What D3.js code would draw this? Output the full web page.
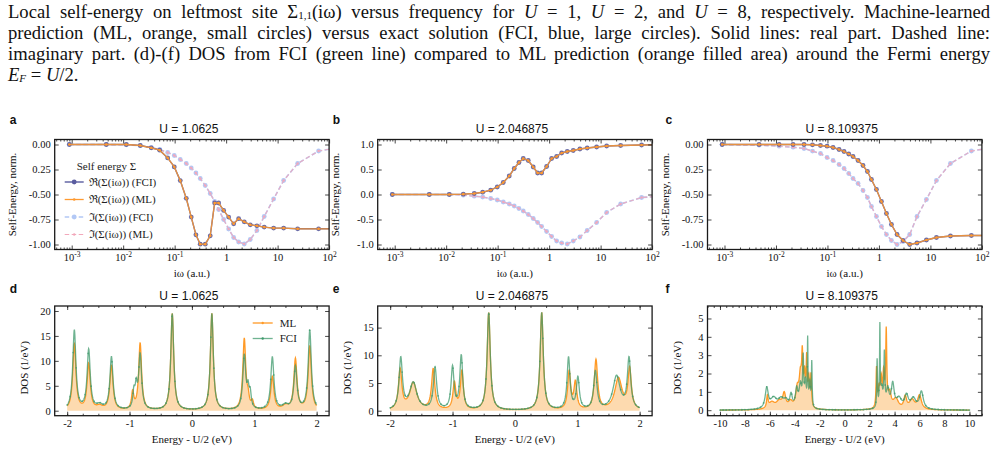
<!DOCTYPE html>
<html><head><meta charset="utf-8">
<script src="https://cdn.jsdelivr.net/npm/d3@7"></script>
<style>body{margin:0;background:#fff}svg{display:block}</style>
</head><body><svg id="c" width="998" height="451"></svg>
<script>
// ---------------- DATA ----------------
const omega=[0.0009,0.0047,0.0115,0.0215,0.0351,0.0512,0.0732,0.0983,0.1285,0.168,0.210,0.259,0.314,0.393,0.491,0.598,0.715,0.894,1.119,1.40,1.75,2.25,2.94,3.96,5.49,8.36,13.1,24.5,62.5,250];
const reA_FCI=[0,0,0,-0.01,-0.033,-0.057,-0.134,-0.224,-0.361,-0.538,-0.726,-0.903,-0.997,-0.997,-0.913,-0.585,-0.585,-0.659,-0.726,-0.793,-0.742,-0.773,-0.803,-0.813,-0.826,-0.836,-0.836,-0.843,-0.843,-0.843];
const reA_ML =[0,0,0,-0.01,-0.033,-0.057,-0.134,-0.224,-0.361,-0.538,-0.726,-0.903,-0.997,-0.997,-0.913,-0.585,-0.585,-0.659,-0.726,-0.793,-0.742,-0.773,-0.803,-0.813,-0.826,-0.836,-0.836,-0.843,-0.843,-0.843];
const imA_FCI=[0,0,-0.003,-0.012,-0.03,-0.05,-0.08,-0.11,-0.15,-0.19,-0.235,-0.285,-0.34,-0.41,-0.49,-0.57,-0.65,-0.75,-0.845,-0.93,-0.975,-0.995,-0.95,-0.86,-0.72,-0.545,-0.36,-0.19,-0.065,-0.015];
const imA_ML =[0,0,-0.003,-0.012,-0.03,-0.05,-0.08,-0.11,-0.15,-0.19,-0.235,-0.285,-0.34,-0.41,-0.49,-0.57,-0.65,-0.75,-0.845,-0.93,-0.975,-0.995,-0.95,-0.86,-0.72,-0.545,-0.36,-0.19,-0.065,-0.015];
const reB_FCI=[0,0,0,0.007,0.02,0.046,0.086,0.15,0.24,0.37,0.52,0.64,0.72,0.68,0.55,0.43,0.43,0.56,0.72,0.76,0.83,0.86,0.88,0.91,0.93,0.95,0.97,0.98,0.99,1.0];
const reB_ML =[0,0,0,0.007,0.02,0.046,0.086,0.15,0.24,0.37,0.52,0.64,0.72,0.68,0.55,0.43,0.43,0.56,0.72,0.76,0.83,0.86,0.88,0.91,0.93,0.95,0.97,0.98,0.99,1.0];
const imB_FCI=[0,0,0,-0.013,-0.033,-0.05,-0.08,-0.11,-0.15,-0.19,-0.23,-0.28,-0.33,-0.40,-0.48,-0.56,-0.64,-0.74,-0.84,-0.93,-0.97,-0.99,-0.93,-0.85,-0.72,-0.56,-0.36,-0.19,-0.06,-0.015];
const imB_ML =[0,0,0,-0.013,-0.033,-0.05,-0.08,-0.11,-0.15,-0.19,-0.23,-0.28,-0.33,-0.40,-0.48,-0.56,-0.64,-0.74,-0.84,-0.93,-0.97,-0.99,-0.93,-0.85,-0.72,-0.56,-0.36,-0.19,-0.06,-0.015];
const reC_FCI=[0,0,0,0,0,-0.003,-0.01,-0.017,-0.03,-0.05,-0.07,-0.095,-0.12,-0.16,-0.21,-0.27,-0.35,-0.45,-0.57,-0.69,-0.80,-0.90,-0.96,-1.0,-0.985,-0.955,-0.93,-0.915,-0.91,-0.91];
const reC_ML =[0,0,0,0,0,-0.003,-0.01,-0.017,-0.03,-0.05,-0.07,-0.095,-0.12,-0.16,-0.21,-0.27,-0.35,-0.45,-0.57,-0.69,-0.80,-0.90,-0.96,-1.0,-0.985,-0.955,-0.93,-0.915,-0.91,-0.91];
const imC_FCI=[0,-0.007,-0.017,-0.027,-0.04,-0.066,-0.09,-0.13,-0.16,-0.2,-0.24,-0.29,-0.34,-0.39,-0.46,-0.53,-0.62,-0.72,-0.82,-0.9,-0.96,-1.0,-0.97,-0.9,-0.72,-0.55,-0.36,-0.19,-0.065,-0.015];
const imC_ML =[0,-0.007,-0.017,-0.027,-0.04,-0.066,-0.09,-0.13,-0.16,-0.2,-0.24,-0.29,-0.34,-0.39,-0.46,-0.53,-0.62,-0.72,-0.82,-0.9,-0.96,-1.0,-0.97,-0.9,-0.72,-0.55,-0.36,-0.19,-0.065,-0.015];

const titles=["U = 1.0625","U = 2.046875","U = 8.109375"];
const panelLetters=["a","b","c","d","e","f"];
const logTicks=[1e-3,1e-2,1e-1,1,10,100];
const logTickLabels=[["10","-3"],["10","-2"],["10","-1"],["1",""],["10",""],["10","2"]];
const seYTicks=[[0,-0.25,-0.5,-0.75,-1],[1,0.5,0,-0.5,-1],[0,-0.25,-0.5,-0.75,-1]];
const seYTickLabels=[["0.00","0.25","-0.50","-0.75","-1.00"],["1.0","0.5","0.0","-0.5","-1.0"],["0.00","0.25","-0.50","-0.75","-1.00"]];
const legendSE=["\u211C(\u03A3(i\u03C9)) (FCI)","\u211C(\u03A3(i\u03C9)) (ML)","\u2111(\u03A3(i\u03C9)) (FCI)","\u2111(\u03A3(i\u03C9)) (ML)"];

// DOS: Lorentzian poles: [position (eV), peak height (1/eV), half width (eV)]
const dosD_FCI=[[-1.885,16.0,.03],[-1.655,12.0,.03],[-1.48,0.9,.06],[-1.29,10.6,.03],[-0.93,3.2,.02],[-0.893,3.9,.02],[-0.83,11.0,.028],[-0.315,19.4,.028],[0.32,19.4,.028],[0.84,10.8,.028],[0.90,3.4,.02],[0.935,2.8,.02],[1.29,10.6,.03],[1.50,0.9,.06],[1.66,8.6,.03],[1.89,16.0,.03]];
const dosD_ML =[[-1.885,13.2,.03],[-1.655,9.2,.03],[-1.48,0.7,.06],[-1.29,8.9,.03],[-0.95,3.4,.022],[-0.83,13.4,.028],[-0.315,19.4,.028],[0.32,19.4,.028],[0.84,14.2,.028],[0.90,2.0,.022],[0.97,1.4,.022],[1.29,6.7,.03],[1.50,0.8,.06],[1.66,10.2,.03],[1.89,12.8,.03]];
const dosE_FCI=[[-1.83,9.2,.032],[-1.63,4.9,.07],[-1.28,7.5,.032],[-1.0,7.6,.028],[-0.86,9.7,.028],[-0.42,17.6,.03],[0.43,17.6,.03],[0.86,9.4,.028],[1.01,5.7,.028],[1.29,6.9,.032],[1.63,6.1,.07],[1.83,9.1,.032]];
const dosE_ML =[[-1.84,7.2,.032],[-1.63,4.9,.07],[-1.31,7.3,.032],[-0.97,4.8,.028],[-0.85,6.9,.028],[-0.42,17.6,.03],[0.43,17.6,.03],[0.87,6.8,.028],[0.97,4.8,.028],[1.30,9.0,.032],[1.66,5.7,.07],[1.84,7.2,.032]];
const dosF_FCI=[[-6.25,1.1,.15],[-5.7,0.55,.3],[-5.1,0.5,.3],[-4.7,0.35,.2],[-4.3,0.7,.12],[-3.85,1.0,.12],[-3.55,1.2,.12],[-3.33,2.5,.05],[-3.15,1.3,.08],[-2.97,3.5,.03],[-2.8,1.3,.07],[-2.64,2.4,.035],[2.6,2.6,.035],[2.82,4.3,.03],[2.97,1.0,.1],[3.18,2.8,.045],[3.45,1.0,.13],[3.85,1.3,.14],[4.35,0.55,.25],[4.95,0.7,.18],[5.5,0.55,.25],[6.15,0.95,.18]];
const dosF_ML =[[-6.2,0.65,.07],[-5.85,0.35,.28],[-5.25,0.4,.3],[-4.85,0.75,.14],[-4.35,0.35,.2],[-3.8,1.0,.15],[-3.55,1.6,.12],[-3.4,2.4,.06],[-3.22,1.6,.08],[-3.05,2.4,.05],[-2.88,1.5,.07],[-2.7,1.7,.05],[2.55,2.1,.045],[2.75,1.0,.09],[2.92,1.4,.07],[3.12,1.8,.08],[3.33,4.0,.05],[3.6,0.8,.15],[4.1,0.55,.25],[4.85,0.65,.13],[5.4,0.5,.25],[6.0,0.75,.18]];
const dosRange=[[-2,2],[-2,2],[-10,10]];
const dosXTicks=[[-2,-1,0,1,2],[-2,-1,0,1,2],[-10,-8,-6,-4,-2,0,2,4,6,8,10]];
const dosYTicks=[[0,5,10,15,20],[0,5,10,15],[0,1,2,3,4,5]];

// ---------------- LAYOUT ----------------
const svg=d3.select("#c");
const SERIF="'Liberation Serif','Times New Roman',serif";
const SANS="'Liberation Sans',Arial,Helvetica,sans-serif";
const colX=[54.7,377.7,707.5], PW=274.4;
const row1={top:139.5,h:110}, row2={top:306,h:109.7};
const C={reF:"#5a5c9f",reM:"#ff9a30",imF:"#b2c8f5",imM:"#f2a8bb",dosM:"#ff9a26",dosFill:"#fdd6a6",dosF:"#3f9a6c"};

// ---------- Caption ----------
const capLines=[
 [["Local self-energy on leftmost site \u03A3",""],["1,1","sub"],["(i\u03C9) versus frequency for ",""],["U","i"],[" = 1, ",""],["U","i"],[" = 2, and ",""],["U","i"],[" = 8, respectively. Machine-learned",""]],
 [["prediction (ML, orange, small circles) versus exact solution (FCI, blue, large circles). Solid lines: real part. Dashed line:",""]],
 [["imaginary part. (d)-(f) DOS from FCI (green line) compared to ML prediction (orange filled area) around the Fermi energy",""]],
 [["E","i"],["F","subi"],[" = ",""],["U","i"],["/2.",""]]
];
const capY=[17.5,38.5,59.5,80.5];
capLines.forEach((segs,i)=>{
  const t=svg.append("text").attr("x",8).attr("y",capY[i]).attr("font-family",SERIF).attr("font-size",18.6).attr("fill","#111");
  let prevSub=false, spaces=0;
  segs.forEach(([s,st])=>{
    const ts=t.append("tspan").text(s);
    spaces+=(s.match(/ /g)||[]).length;
    const isSub=(st==="sub"||st==="subi");
    if(st==="i"||st==="subi") ts.attr("font-style","italic");
    if(isSub) ts.attr("font-size",11).attr("dy",1.8);
    else if(prevSub) ts.attr("dy",-1.8);
    prevSub=isSub;
  });
  if(i<3){
    const nat=t.node().getComputedTextLength();
    t.attr("word-spacing",((982-nat)/spaces).toFixed(3));
  }
});

function frame(g,w,h){
  g.append("rect").attr("width",w).attr("height",h).attr("fill","none").attr("stroke","#1a1a1a").attr("stroke-width",1.3);
}
function clip(g,id,w,h){
  svg.append("clipPath").attr("id",id).append("rect").attr("width",w).attr("height",h).attr("x",0).attr("y",0);
  return g.append("g").attr("clip-path",`url(#${id})`);
}
function ticksAll(g,x,y,w,h,xMaj,xMin,yMaj,yMin){
  const mk=(ax,vals,size,tr)=>{const a=g.append("g").attr("transform",tr).call(ax.tickValues(vals).tickSize(size).tickSizeOuter(0).tickFormat(""));a.select(".domain").remove();a.selectAll("line").attr("stroke","#1a1a1a").attr("stroke-width",0.8);return a;};
  mk(d3.axisBottom(x),xMin,-2,`translate(0,${h})`);
  mk(d3.axisTop(x),xMin,-2,`translate(0,0)`);
  mk(d3.axisTop(x),xMaj,-4,`translate(0,0)`);
  mk(d3.axisRight(y),yMaj,-4,`translate(${w},0)`);
  if(yMin.length){mk(d3.axisLeft(y),yMin,-2,"");mk(d3.axisRight(y),yMin,-2,`translate(${w},0)`);}
}

// ---------- Self-energy panels ----------
const seData=[[reA_FCI,reA_ML,imA_FCI,imA_ML],[reB_FCI,reB_ML,imB_FCI,imB_ML],[reC_FCI,reC_ML,imC_FCI,imC_ML]];
const seYDom=[[-1.05,0.05],[-1.1,1.1],[-1.05,0.05]];
const logMinor=[];
for(let e=-4;e<2;e++) for(let k=2;k<10;k++){const v=k*Math.pow(10,e); if(v>Math.pow(10,-3.33)&&v<100) logMinor.push(v);}

seData.forEach((ser,pi)=>{
  const w=PW,h=row1.h;
  const g=svg.append("g").attr("transform",`translate(${colX[pi]},${row1.top})`);
  const x=d3.scaleLog().domain([Math.pow(10,-3.33),100]).range([0,w]);
  const y=d3.scaleLinear().domain(seYDom[pi]).range([h,0]);
  const pg=clip(g,"cse"+pi,w,h);
  const pts=(arr)=>omega.map((o,i)=>[o,arr[i]]);
  const line=d3.line().x(d=>x(d[0])).y(d=>y(d[1]));
  pg.append("path").attr("d",line(pts(ser[2]))).attr("fill","none").attr("stroke",C.imF).attr("stroke-width",1.6).attr("stroke-dasharray","4.5,2.5");
  pg.selectAll(".imf").data(pts(ser[2])).join("circle").attr("cx",d=>x(d[0])).attr("cy",d=>y(d[1])).attr("r",2.4).attr("fill",C.imF);
  pg.append("path").attr("d",line(pts(ser[3]))).attr("fill","none").attr("stroke",C.imM).attr("stroke-width",1.1).attr("stroke-opacity",0.85).attr("stroke-dasharray","4.5,2.5");
  pg.selectAll(".imm").data(pts(ser[3])).join("circle").attr("cx",d=>x(d[0])).attr("cy",d=>y(d[1])).attr("r",1.2).attr("fill",C.imM);
  pg.append("path").attr("d",line(pts(ser[0]))).attr("fill","none").attr("stroke",C.reF).attr("stroke-width",1.4);
  pg.selectAll(".ref").data(pts(ser[0])).join("circle").attr("cx",d=>x(d[0])).attr("cy",d=>y(d[1])).attr("r",2.4).attr("fill",C.reF).attr("fill-opacity",0.9);
  pg.append("path").attr("d",line(pts(ser[1]))).attr("fill","none").attr("stroke",C.reM).attr("stroke-width",1.3).attr("stroke-opacity",0.85);
  pg.selectAll(".rem").data(pts(ser[1])).join("circle").attr("cx",d=>x(d[0])).attr("cy",d=>y(d[1])).attr("r",1.3).attr("fill",C.reM);

  frame(g,w,h);
  ticksAll(g,x,y,w,h,logTicks,logMinor,seYTicks[pi],[]);
  const ax=g.append("g").attr("transform",`translate(0,${h})`).call(d3.axisBottom(x).tickValues(logTicks).tickSize(-4).tickSizeOuter(0).tickPadding(4));
  ax.select(".domain").remove();
  ax.selectAll("line").attr("stroke","#1a1a1a").attr("stroke-width",0.8);
  ax.selectAll("text").each(function(d,i){
    const t=d3.select(this).text("").attr("font-family",SERIF).attr("font-size",10.5).attr("fill","#111");
    t.append("tspan").text(logTickLabels[i][0]);
    if(logTickLabels[i][1]) t.append("tspan").attr("font-size",7.5).attr("dy",-4).text(logTickLabels[i][1]);
  });
  const ay=g.append("g").call(d3.axisLeft(y).tickValues(seYTicks[pi]).tickSize(-4).tickSizeOuter(0).tickPadding(4).tickFormat((d,i)=>seYTickLabels[pi][i]));
  ay.select(".domain").remove();
  ay.selectAll("line").attr("stroke","#1a1a1a").attr("stroke-width",0.8);
  ay.selectAll("text").attr("font-family",SERIF).attr("font-size",10.5).attr("fill","#111");
  g.append("text").attr("x",w/2).attr("y",h+27.5).attr("text-anchor","middle").attr("font-family",SERIF).attr("font-size",11).attr("fill","#111").text("i\u03C9 (a.u.)");
  g.append("text").attr("transform",`translate(${-39},${h/2}) rotate(-90)`).attr("text-anchor","middle").attr("font-family",SERIF).attr("font-size",11).attr("fill","#111").text("Self-Energy, norm.");
  g.append("text").attr("x",w/2-3).attr("y",-6.5).attr("text-anchor","middle").attr("font-family",SANS).attr("font-size",12).attr("fill","#111").text(titles[pi]);
  svg.append("text").attr("x",colX[pi]-45+(pi===2?3:0)).attr("y",124).attr("font-family",SANS).attr("font-weight","bold").attr("font-size",12).attr("fill","#111").text(panelLetters[pi]);

  if(pi===0){
    const lg=g.append("g").attr("transform","translate(10,0)");
    lg.append("text").attr("x",12).attr("y",30.5).attr("font-family",SERIF).attr("font-size",11).attr("fill","#222").text("Self energy \u03A3");
    const sty=[[C.reF,1.4,null,2.4],[C.reM,1.3,null,1.3],[C.imF,1.6,"4.5,2.5",2.4],[C.imM,1.1,"4.5,2.5",1.2]];
    legendSE.forEach((lab,i)=>{
      const yy=42.5+i*17.5;
      lg.append("line").attr("x1",0).attr("x2",19).attr("y1",yy).attr("y2",yy).attr("stroke",sty[i][0]).attr("stroke-width",sty[i][1]).attr("stroke-dasharray",sty[i][2]);
      lg.append("circle").attr("cx",9.5).attr("cy",yy).attr("r",sty[i][3]).attr("fill",sty[i][0]);
      lg.append("text").attr("x",24).attr("y",yy+3.8).attr("font-family",SERIF).attr("font-size",11).attr("fill","#222").text(lab);
    });
  }
});

// ---------- DOS panels ----------
const dosData=[[dosD_FCI,dosD_ML],[dosE_FCI,dosE_ML],[dosF_FCI,dosF_ML]];
const dosXDom=[[-2.2,2.2],[-2.2,2.2],[-11,11]];
const dosYDom=[[-1,21],[-0.9,18.9],[-0.3,5.68]];
const dosXMinor=[d3.range(-2,2.001,0.25),d3.range(-2,2.001,0.25),d3.range(-11,11.001,0.5)];
const dosStep=[0.004,0.004,0.01];
function lsum(peaks,e){let s=0;for(const [p,hh,gm] of peaks){s+=hh*gm*gm/((e-p)*(e-p)+gm*gm);}return s;}

dosData.forEach((ser,pi)=>{
  const w=PW,h=row2.h;
  const g=svg.append("g").attr("transform",`translate(${colX[pi]},${row2.top})`);
  const x=d3.scaleLinear().domain(dosXDom[pi]).range([0,w]);
  const y=d3.scaleLinear().domain(dosYDom[pi]).range([h,0]);
  const pg=clip(g,"cdos"+pi,w,h);
  const grid=d3.range(dosRange[pi][0],dosRange[pi][1]+1e-9,dosStep[pi]);
  const fci=grid.map(e=>[e,lsum(ser[0],e)]);
  const ml=grid.map(e=>[e,lsum(ser[1],e)]);
  const line=d3.line().x(d=>x(d[0])).y(d=>y(d[1]));
  pg.append("path").attr("d",d3.area().x(d=>x(d[0])).y0(y(0)).y1(d=>y(d[1]))(ml)).attr("fill",C.dosFill).attr("fill-opacity",0.9);
  pg.append("path").attr("d",line(ml)).attr("fill","none").attr("stroke",C.dosM).attr("stroke-width",1.3);
  pg.append("path").attr("d",line(fci)).attr("fill","none").attr("stroke",C.dosF).attr("stroke-width",1.3).attr("stroke-opacity",0.75);
  const every=pi<2?12:25;
  pg.selectAll(".mf").data(fci.filter((d,i)=>i%every===0)).join("circle").attr("cx",d=>x(d[0])).attr("cy",d=>y(d[1])).attr("r",0.9).attr("fill",C.dosF).attr("fill-opacity",0.7);

  frame(g,w,h);
  ticksAll(g,x,y,w,h,dosXTicks[pi],dosXMinor[pi],dosYTicks[pi],[]);
  const ax=g.append("g").attr("transform",`translate(0,${h})`).call(d3.axisBottom(x).tickValues(dosXTicks[pi]).tickSize(-4).tickSizeOuter(0).tickPadding(4).tickFormat(d=>String(d)));
  ax.select(".domain").remove();
  ax.selectAll("line").attr("stroke","#1a1a1a").attr("stroke-width",0.8);
  ax.selectAll("text").attr("font-family",SERIF).attr("font-size",10.5).attr("fill","#111");
  const ay=g.append("g").call(d3.axisLeft(y).tickValues(dosYTicks[pi]).tickSize(-4).tickSizeOuter(0).tickPadding(4).tickFormat(d=>String(d)));
  ay.select(".domain").remove();
  ay.selectAll("line").attr("stroke","#1a1a1a").attr("stroke-width",0.8);
  ay.selectAll("text").attr("font-family",SERIF).attr("font-size",10.5).attr("fill","#111");
  g.append("text").attr("x",w/2).attr("y",h+27.5).attr("text-anchor","middle").attr("font-family",SERIF).attr("font-size",11).attr("fill","#111").text("Energy - U/2 (eV)");
  g.append("text").attr("transform",`translate(${-27},${h/2+7}) rotate(-90)`).attr("text-anchor","middle").attr("font-family",SERIF).attr("font-size",11).attr("fill","#111").text("DOS (1/eV)");
  g.append("text").attr("x",w/2-3).attr("y",-6).attr("text-anchor","middle").attr("font-family",SANS).attr("font-size",12).attr("fill","#111").text(titles[pi]);
  svg.append("text").attr("x",colX[pi]-45+(pi===2?3:0)).attr("y",293).attr("font-family",SANS).attr("font-weight","bold").attr("font-size",12).attr("fill","#111").text(panelLetters[3+pi]);
  if(pi===0){
    const labs=["ML","FCI"], cols=[C.dosM,C.dosF];
    labs.forEach((lab,i)=>{
      const yy=17+i*15.5;
      g.append("line").attr("x1",198).attr("x2",218).attr("y1",yy).attr("y2",yy).attr("stroke",cols[i]).attr("stroke-width",1.3).attr("stroke-opacity",i?0.75:1);
      g.append("circle").attr("cx",208).attr("cy",yy).attr("r",1.2).attr("fill",cols[i]);
      g.append("text").attr("x",225).attr("y",yy+3.8).attr("font-family",SERIF).attr("font-size",11).attr("fill","#222").text(lab);
    });
  }
});
</script></body></html>
